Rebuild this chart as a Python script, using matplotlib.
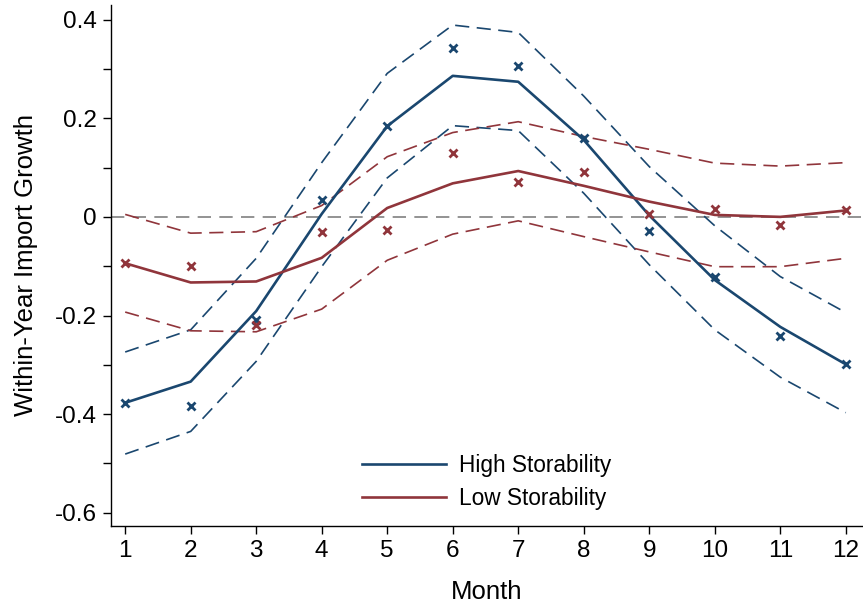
import matplotlib
matplotlib.use("Agg")
import matplotlib.pyplot as plt
import numpy as np

plt.rcParams["font.family"] = ["Liberation Sans", "DejaVu Sans"]

months = np.arange(1, 13)

# high storability: fitted line, point estimates, confidence band
high_fit = [-0.377, -0.334, -0.191, 0.006, 0.184, 0.286, 0.274, 0.156, 0.003, -0.128, -0.223, -0.299]
high_pts = [-0.378, -0.384, -0.210, 0.034, 0.185, 0.342, 0.306, 0.160, -0.028, -0.121, -0.242, -0.299]
high_hi = [-0.274, -0.229, -0.084, 0.110, 0.291, 0.389, 0.374, 0.245, 0.102, -0.018, -0.121, -0.194]
high_lo = [-0.481, -0.435, -0.293, -0.101, 0.079, 0.185, 0.175, 0.048, -0.097, -0.229, -0.325, -0.397]

# low storability
low_fit = [-0.094, -0.133, -0.131, -0.083, 0.018, 0.068, 0.093, 0.063, 0.031, 0.004, 0.000, 0.013]
low_pts = [-0.094, -0.099, -0.219, -0.030, -0.026, 0.129, 0.070, 0.091, 0.005, 0.016, -0.016, 0.013]
low_hi = [0.005, -0.033, -0.030, 0.023, 0.122, 0.171, 0.193, 0.163, 0.137, 0.109, 0.103, 0.110]
low_lo = [-0.193, -0.231, -0.233, -0.187, -0.088, -0.035, -0.008, -0.040, -0.071, -0.101, -0.101, -0.084]

yticks = [-0.6, -0.5, -0.4, -0.3, -0.2, -0.1, 0, 0.1, 0.2, 0.3, 0.4]
ylabels = ["-0.6", "", "-0.4", "", "-0.2", "", "0", "", "0.2", "", "0.4"]

blue = "#1a476f"
red = "#90353b"

fig = plt.figure(figsize=(8.63, 6.04), dpi=100)
ax = fig.add_axes([0.1286, 0.129, 0.8704, 0.863])

ax.axhline(0, color="#808080", lw=1.2, ls=(0, (8, 5)), zorder=1)

dash = (0, (8.5, 4.5))
ax.plot(months, high_hi, color=blue, lw=1.2, ls=dash)
ax.plot(months, high_lo, color=blue, lw=1.2, ls=dash)
ax.plot(months, low_hi, color=red, lw=1.2, ls=dash)
ax.plot(months, low_lo, color=red, lw=1.2, ls=dash)

ax.plot(months, high_fit, color=blue, lw=1.9, label="High Storability")
ax.plot(months, low_fit, color=red, lw=1.9, label="Low Storability")

ax.plot(months, high_pts, ls="None", marker="x", ms=6, mew=2, color=blue)
ax.plot(months, low_pts, ls="None", marker="x", ms=6, mew=2, color=red)

ax.set_xlim(0.783, 12.25)
ax.set_ylim(-0.627, 0.430)
ax.set_xticks(months)
ax.set_yticks(yticks)
ax.set_yticklabels(ylabels)
ax.tick_params(labelsize=17.5, length=6, width=1, direction="out", pad=4)

for s in ["top", "right"]:
    ax.spines[s].set_visible(False)
for s in ["left", "bottom"]:
    ax.spines[s].set_linewidth(1)

ax.set_xlabel("Month", fontsize=18.5, labelpad=13)
ax.set_ylabel("Within-Year Import Growth", fontsize=18.5, labelpad=12)

ax.legend(loc="lower center", bbox_to_anchor=(0.5, -0.009), frameon=False,
          fontsize=16.3, handlelength=3.7, handletextpad=0.6, labelspacing=0.45)

fig.savefig("out.png", dpi=100)
